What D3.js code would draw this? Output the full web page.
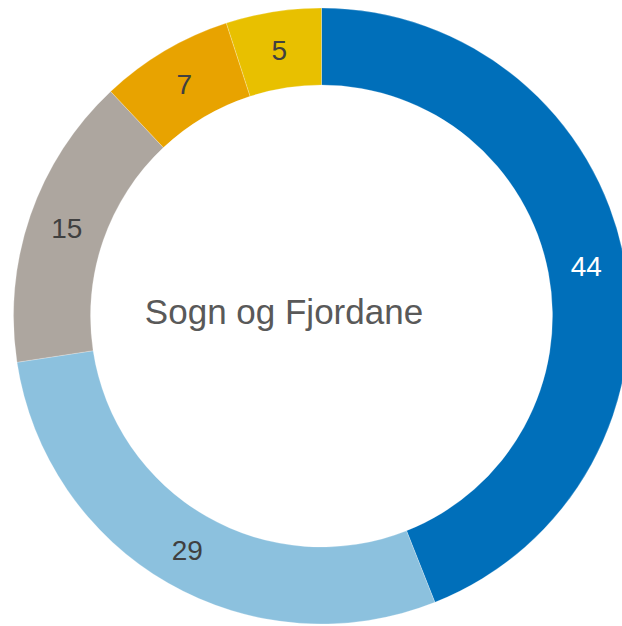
<!DOCTYPE html>
<html>
<head>
<meta charset="utf-8">
<script src="https://cdnjs.cloudflare.com/ajax/libs/d3/7.8.5/d3.min.js"></script>
<style>
  html, body { margin: 0; padding: 0; background: #fff; }
  svg { display: block; }
</style>
</head>
<body>
<svg width="622" height="626"></svg>
<script>
// shares (%), clockwise from 12 o'clock; labels show them rounded
var values = [44.0, 28.6, 15.4, 7.0, 5.0];
var colors = ["#006fba", "#8cc1de", "#ada69f", "#e8a300", "#e8c000"];
var labelColors = ["#ffffff", "#404040", "#404040", "#404040", "#404040"];
var title = "Sogn og Fjordane";

var width = 622,
    height = 626,
    cx = 321.5,
    cy = 316,
    outerR = 308,
    innerR = 231;

var svg = d3.select("svg");
var g = svg.append("g").attr("transform", "translate(" + cx + "," + cy + ")");

var pie = d3.pie().sort(null).value(function(d) { return d; });
var arc = d3.arc().innerRadius(innerR).outerRadius(outerR);
var fmt = d3.format(".0f");

var arcs = pie(values);

g.selectAll("path")
    .data(arcs)
    .enter().append("path")
    .attr("d", arc)
    .attr("fill", function(d, i) { return colors[i]; })
    .attr("stroke", "#fff")
    .attr("stroke-opacity", 0.4)
    .attr("stroke-width", 0.6);

g.selectAll("text.lbl")
    .data(arcs)
    .enter().append("text")
    .attr("class", "lbl")
    .attr("transform", function(d) { return "translate(" + arc.centroid(d) + ")"; })
    .attr("text-anchor", "middle")
    .attr("dy", "0.36em")
    .attr("font-family", "Liberation Sans, Arial, sans-serif")
    .attr("font-size", 28)
    .attr("fill", function(d, i) { return labelColors[i]; })
    .text(function(d) { return fmt(d.data); });

svg.append("text")
    .attr("x", 284)
    .attr("y", 324)
    .attr("text-anchor", "middle")
    .attr("font-family", "Liberation Sans, Arial, sans-serif")
    .attr("font-size", 35)
    .attr("fill", "#595959")
    .text(title);
</script>
</body>
</html>
